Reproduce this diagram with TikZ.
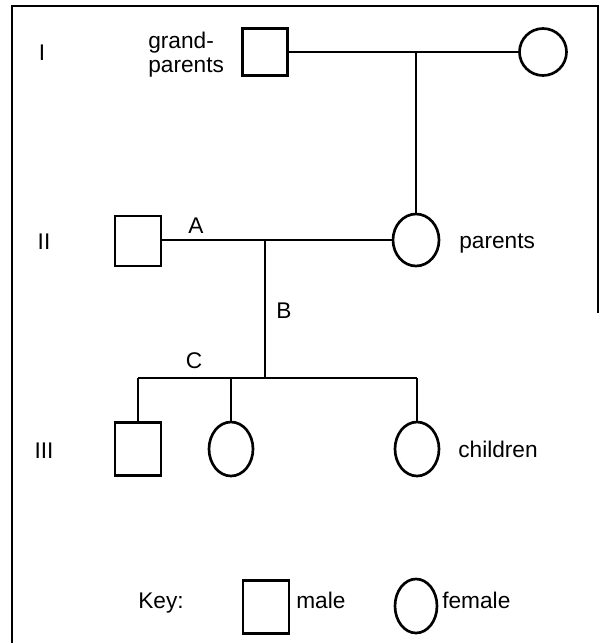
\documentclass[tikz,border=0pt]{standalone}
\usepackage{fontspec}
\setmainfont{Liberation Sans}
\usetikzlibrary{shapes.geometric}
\begin{document}
\begin{tikzpicture}[x=0.75pt,y=-0.75pt,
  line width=2pt,
  every node/.style={font=\fontsize{17}{20}\selectfont, inner sep=0pt},
  male/.style={draw, rectangle, minimum width=34.5pt, minimum height=37.5pt, line width=2pt},
  female/.style={draw, ellipse, minimum width=34.5pt, minimum height=39pt, line width=2pt},
  lbl/.style={anchor=base},
  lblw/.style={anchor=base west}]
\useasboundingbox (0,0) rectangle (601,643);

% open frame (cut off at the bottom and lower right)
\draw[line width=2pt] (12,643) -- (12,6) -- (598,6) -- (598,313);

% generation numerals
\node[lbl] (gI) at (42,60) {I};
\node[lbl] (gII) at (44,249) {II};
\node[lbl] (gIII) at (44,458) {III};

% generation I
\node[male, minimum width=33.75pt, minimum height=35.25pt] (gpm) at (265,52) {};
\node[female, minimum width=35.25pt, minimum height=35.25pt] (gpf) at (543,52) {};
\node[anchor=west, align=left] (gplabel) at (147,55) {grand-\\[-2pt]parents};

% generation II
\node[male] (pm) at (138,241) {};
\node[female] (pf) at (416,240) {};
\node[lblw] (plabel) at (458,248) {parents};

% generation III
\node[male, minimum height=39.75pt] (c1) at (138,449) {};
\node[female, minimum width=33pt, minimum height=40.5pt] (c2) at (231,449) {};
\node[female, minimum width=33pt, minimum height=40.5pt] (c3) at (417,449) {};
\node[lblw] (clabel) at (457,457) {children};

% line junctions
\coordinate (j1) at (416,52);
\coordinate (j2) at (265,240);
\coordinate (j3) at (265,378);
\coordinate (j4) at (138,378);
\coordinate (j5) at (231,378);
\coordinate (j6) at (417,378);

% connectors
\draw (gpm.east) -- (gpf.west);
\draw (j1) -- (pf.north);
\draw (pm.east |- j2) -- (pf.west);
\draw (j2) -- (j3);
\draw (j4) -- (j6);
\draw (j4) -- (c1.north);
\draw (j5) -- (c2.north);
\draw (j6) -- (c3.north);

% line labels
\node[lbl] (la) at (196,233) {A};
\node[lbl] (lb) at (284,318) {B};
\node[lbl] (lc) at (194,368) {C};

% key
\node[lbl] (key) at (161,608) {Key:};
\node[male, minimum height=39.75pt] (km) at (266,607) {};
\node[lblw] (kml) at (295,608) {male};
\node[female, minimum width=31.5pt, minimum height=40.5pt] (kf) at (416,606) {};
\node[lblw] (kfl) at (441,608) {female};
\end{tikzpicture}
\end{document}
